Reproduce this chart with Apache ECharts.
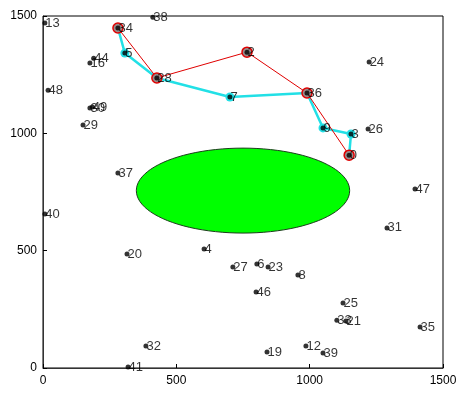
<html>
<head>
<meta charset="utf-8">
<title>路径图</title>
<script src="https://cdn.jsdelivr.net/npm/echarts@6.0.0/dist/echarts.min.js"></script>
</head>
<body style="margin:0;width:471px;height:395px;background:#fff">
<div id="main" style="width:471px;height:395px;"></div>
<script>
// 节点
var names = ['13','38','34','44','16','5','28','48','30','49','29','2','7','36','24','9','3','26','0',
             '37','40','20','4','47','31','27','6','23','8','46','25','33','21','35','19','12','39','32','41'];
var xs = [7,412,281,190,176,307,427,19,176,185,150,765,701,990,1223,1050,1155,1219,1148,
          281,7,315,604,1395,1290,712,802,844,956,799,1125,1102,1136,1414,840,986,1050,386,319];
var ys = [1470,1495,1449,1320,1300,1342,1236,1184,1108,1112,1035,1346,1155,1172,1304,1023,997,1018,907,
          831,656,486,507,763,597,430,443,430,396,324,277,204,200,175,68,94,64,94,4];

// 路线
var redRoute = ['34','28','2','36','0'];
var cyanRoute = ['34','5','28','7','36','9','3','0'];

// 椭圆 (中心x, 中心y, 半径x, 半径y)
var ellipse = [750, 756, 400, 181];

var xTicks = [0, 500, 1000, 1500];
var yTicks = [0, 500, 1000, 1500];

function routeData(r){
	var out = [];
	for(var i=0;i<r.length;i++){
		var k = names.indexOf(r[i]);
		out.push([xs[k], ys[k]]);
	}
	return out;
}

var pts = [];
for(var i=0;i<names.length;i++){
	pts.push({value:[xs[i], ys[i]], name:names[i]});
}

var myChart = echarts.init(document.getElementById('main'));
var option = {
	animation: false,
	grid: {
		left: 43, right: 28, top: 16, bottom: 27,
		show: true, borderColor: '#000', borderWidth: 1, backgroundColor: '#fff'
	},
	xAxis: {
		type: 'value', min: xTicks[0], max: xTicks[xTicks.length-1], interval: 500,
		axisLine: {lineStyle: {color: '#333', width: 1}},
		axisTick: {show: true, inside: true, length: 4, lineStyle: {color: '#000'}},
		splitLine: {show: false},
		axisLabel: {color: '#000', fontFamily: 'Liberation Sans', fontSize: 12, margin: 7,
			formatter: function(v){ return String(v); }}
	},
	yAxis: {
		type: 'value', min: yTicks[0], max: yTicks[yTicks.length-1], interval: 500,
		axisLine: {show: true, lineStyle: {color: '#333', width: 1}},
		axisTick: {show: true, inside: true, length: 4, lineStyle: {color: '#000'}},
		splitLine: {show: false},
		axisLabel: {color: '#000', fontFamily: 'Liberation Sans', fontSize: 12, margin: 6,
			formatter: function(v){ return String(v); }}
	},
	series: [
		{
			type: 'custom',
			z: 1,
			data: [ellipse],
			encode: {x: 0, y: 1},
			renderItem: function(params, api){
				var cx = api.value(0), cy = api.value(1), rx = api.value(2), ry = api.value(3);
				var p = [];
				for(var a=0;a<96;a++){
					var t = a/96*Math.PI*2;
					p.push(api.coord([cx+rx*Math.cos(t), cy+ry*Math.sin(t)]));
				}
				return {type:'polygon', shape:{points:p}, style:{fill:'#00ff00', stroke:'#1c3d1c', lineWidth:1}};
			}
		},
		{
			type: 'line',
			z: 2,
			data: routeData(cyanRoute),
			symbol: 'circle', symbolSize: 9,
			itemStyle: {color: '#22e0e6'},
			lineStyle: {color: '#22e0e6', width: 2.5}
		},
		{
			type: 'line',
			z: 3,
			data: routeData(redRoute),
			symbol: 'circle', symbolSize: 10,
			itemStyle: {color: '#9a8a8a', borderColor: '#e00000', borderWidth: 1.5},
			lineStyle: {color: '#e00000', width: 1}
		},
		{
			type: 'scatter',
			z: 4,
			data: pts,
			symbol: 'circle', symbolSize: 5,
			itemStyle: {color: '#000'},
			label: {
				show: true, position: 'right', distance: -2,
				formatter: '{b}', color: '#000', fontFamily: 'Liberation Sans', fontSize: 13
			}
		}
	]
};
myChart.setOption(option);
</script>
</body>
</html>
